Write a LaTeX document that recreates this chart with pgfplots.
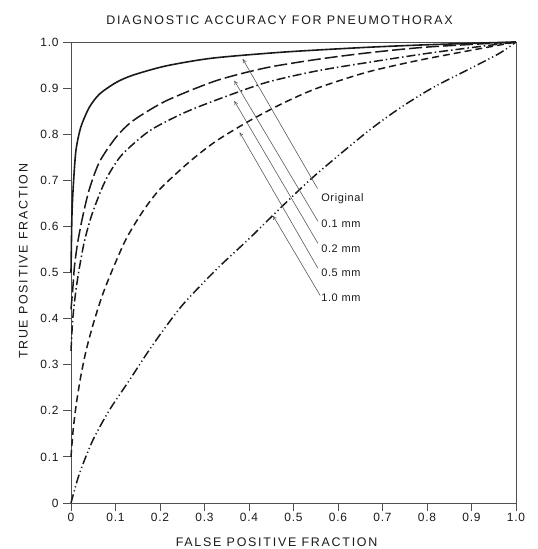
\documentclass[border=0pt]{standalone}
\usepackage{fontspec}
\setmainfont{Liberation Sans}
\newfontfamily\spaced[LetterSpace=14]{Liberation Sans}
\newfontfamily\tickfont[LetterSpace=6]{Liberation Sans}
\usepackage{pgfplots}
\pgfplotsset{compat=1.18}
\usetikzlibrary{arrows.meta}
\definecolor{ink}{HTML}{1A1A1A}
\definecolor{axisgray}{HTML}{505050}
\definecolor{arrowgray}{HTML}{5A5A5A}
\begin{document}
\begin{tikzpicture}
\begin{axis}[name=ax, width=445bp, height=461bp, scale only axis,
  xmin=0, xmax=1, ymin=0, ymax=1, clip=false,
  axis line style={axisgray, line width=0.8bp},
  tick pos=left, tick align=outside, major tick length=8bp,
  tick style={axisgray, line width=0.8bp},
  xtick={0,0.1,0.2,0.3,0.4,0.5,0.6,0.7,0.8,0.9,1},
  ytick={0,0.1,0.2,0.3,0.4,0.5,0.6,0.7,0.8,0.9,1},
  xticklabels={0,0.1,0.2,0.3,0.4,0.5,0.6,0.7,0.8,0.9,1.0},
  yticklabels={0,0.1,0.2,0.3,0.4,0.5,0.6,0.7,0.8,0.9,1.0},
  ticklabel style={font=\tickfont\fontsize{12}{14}\selectfont, text=ink},
  xticklabel style={yshift=1bp},
  yticklabel style={xshift=-1bp},
  /pgf/number format/assume math mode=true,
]
% Original (solid)
\addplot[ink, line width=1.6bp, smooth, tension=0.45] coordinates {
(0,0.50) (0.002,0.62) (0.005,0.685) (0.011,0.764) (0.022,0.815) (0.041,0.858)
(0.064,0.887) (0.101,0.912) (0.139,0.928) (0.213,0.948) (0.318,0.965)
(0.476,0.978) (0.656,0.988) (0.80,0.994) (1,1)};
% 0.1 mm (long dash)
\addplot[ink, line width=1.5bp, smooth, tension=0.45, dash pattern=on 13bp off 4bp] coordinates {
(0,0.42) (0.004,0.465) (0.008,0.515) (0.015,0.565) (0.026,0.62) (0.041,0.68)
(0.064,0.740) (0.101,0.793) (0.139,0.829) (0.213,0.872) (0.326,0.916)
(0.438,0.944) (0.551,0.962) (0.663,0.976) (0.80,0.989) (1,1)};
% 0.2 mm (dash-dot)
\addplot[ink, line width=1.5bp, smooth, tension=0.45, dash pattern=on 9bp off 3bp on 1.5bp off 3bp] coordinates {
(0,0.33) (0.004,0.40) (0.011,0.461) (0.019,0.511) (0.03,0.567) (0.045,0.62)
(0.067,0.677) (0.086,0.715) (0.116,0.757) (0.176,0.807) (0.251,0.845)
(0.326,0.874) (0.438,0.912) (0.551,0.937) (0.663,0.955) (0.813,0.977) (1,1)};
% 0.5 mm (dashed)
\addplot[ink, line width=1.5bp, smooth, tension=0.45, dash pattern=on 7bp off 4bp] coordinates {
(0,0.10) (0.005,0.16) (0.012,0.215) (0.022,0.275) (0.035,0.335) (0.052,0.395)
(0.071,0.452) (0.094,0.508) (0.124,0.573) (0.161,0.632) (0.20,0.681)
(0.266,0.740) (0.326,0.785) (0.401,0.829) (0.476,0.867) (0.551,0.899)
(0.663,0.934) (0.775,0.959) (0.888,0.980) (1,1)};
% 1.0 mm (dash-dot-dot)
\addplot[ink, line width=1.5bp, smooth, tension=0.45, dash pattern=on 9bp off 3bp on 1.2bp off 3bp on 1.2bp off 3bp] coordinates {
(0,0) (0.019,0.064) (0.049,0.136) (0.086,0.201) (0.131,0.266) (0.169,0.322)
(0.20,0.365) (0.251,0.430) (0.326,0.506) (0.401,0.574) (0.476,0.645)
(0.55,0.712) (0.663,0.803) (0.738,0.856) (0.813,0.901) (0.888,0.938)
(0.962,0.975) (1,1)};
% annotation arrows
\begin{scope}[arrowgray, line width=0.6bp, -{To[length=4bp,width=4bp]}]
\draw (axis cs:0.554,0.682) -- (axis cs:0.386,0.963);
\draw (axis cs:0.555,0.611) -- (axis cs:0.367,0.916);
\draw (axis cs:0.555,0.563) -- (axis cs:0.367,0.872);
\draw (axis cs:0.555,0.509) -- (axis cs:0.379,0.804);
\draw (axis cs:0.560,0.450) -- (axis cs:0.454,0.623);
\end{scope}
\begin{scope}[every node/.style={anchor=west, font=\tickfont\fontsize{11}{13}\selectfont, text=ink, inner sep=0pt}]
\node at (axis cs:0.562,0.660) {Original};
\node at (axis cs:0.562,0.606) {0.1 mm};
\node at (axis cs:0.562,0.552) {0.2 mm};
\node at (axis cs:0.562,0.500) {0.5 mm};
\node at (axis cs:0.562,0.446) {1.0 mm};
\end{scope}
% title and axis labels
\node[font=\spaced\fontsize{12.5}{14}\selectfont, text=ink] at (rel axis cs:0.4685,1.0466) {DIAGNOSTIC ACCURACY FOR PNEUMOTHORAX};
\node[font=\spaced\fontsize{12.5}{14}\selectfont, text=ink, inner sep=1bp] at (rel axis cs:0.462,-0.0845) {FALSE POSITIVE FRACTION};
\node[font=\spaced\fontsize{12.5}{14}\selectfont, text=ink, rotate=90] at (rel axis cs:-0.107,0.524) {TRUE POSITIVE FRACTION};
\end{axis}
\pgfresetboundingbox
\path[use as bounding box] ([shift={(-71bp,-46bp)}]ax.south west) rectangle ([shift={(22bp,42bp)}]ax.north east);
\end{tikzpicture}
\end{document}
